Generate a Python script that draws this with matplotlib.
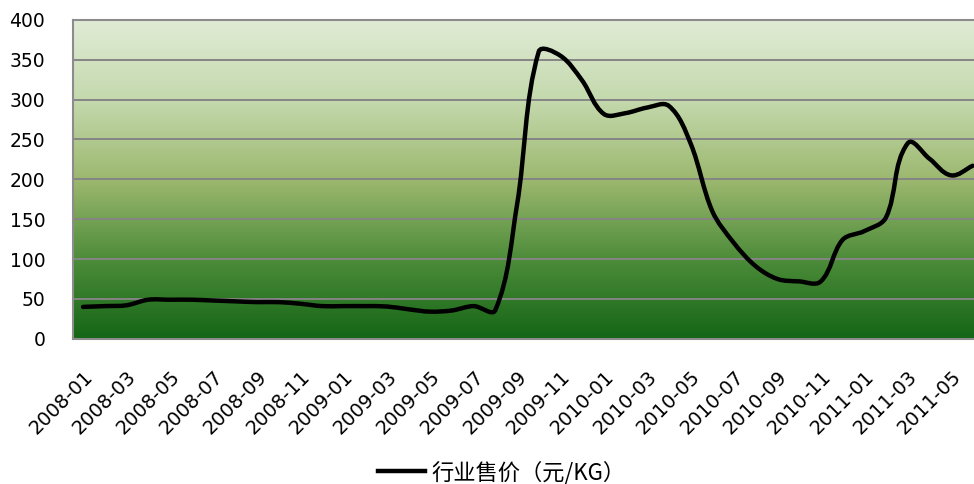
import numpy as np
import matplotlib
matplotlib.use("Agg")
import matplotlib.pyplot as plt
from matplotlib.path import Path
from matplotlib.patches import PathPatch
from matplotlib.lines import Line2D
from matplotlib.colors import LinearSegmentedColormap
from matplotlib.transforms import ScaledTranslation

plt.rcParams['font.family'] = ['DejaVu Sans', 'Noto Sans CJK SC']

# monthly industry selling price (yuan/kg), 2008-01 .. 2011-06
months = ['%d-%02d' % (y, m) for y in (2008, 2009, 2010, 2011) for m in range(1, 13)][:42]
prices = [
    40, 41, 42, 49, 49, 49, 48, 47, 46, 46, 44, 41,
    41, 41, 40.5, 37, 34, 35.5, 41, 36, 168, 360, 355, 324,
    282, 283, 290, 292, 245, 160, 120, 91, 75, 72, 72, 124,
    135, 152, 245, 226, 205, 217,
]
series_name = '行业售价（元/KG）'
yticks = [0, 50, 100, 150, 200, 250, 300, 350, 400]


def smooth_path(ax, xs, ys, k=1.0 / 3):
    # smoothed line: bezier handles scaled by on-screen segment length
    pts = ax.transData.transform(np.column_stack([xs, ys]).astype(float))
    n = len(pts)
    tang = np.zeros_like(pts)
    for i in range(n):
        a = pts[max(i - 1, 0)]
        b = pts[min(i + 1, n - 1)]
        d = b - a
        tang[i] = d / np.hypot(*d)
    verts = [pts[0]]
    codes = [Path.MOVETO]
    for i in range(n - 1):
        seg = np.hypot(*(pts[i + 1] - pts[i]))
        verts += [pts[i] + tang[i] * seg * k, pts[i + 1] - tang[i + 1] * seg * k, pts[i + 1]]
        codes += [Path.CURVE4] * 3
    verts = ax.transData.inverted().transform(np.array(verts))
    return Path(verts, codes)


fig = plt.figure(figsize=(9.74, 4.84), dpi=100)
ax = fig.add_axes([0.075, 0.300, 0.925, 0.659])

cmap = LinearSegmentedColormap.from_list(
    'bg', ['#146616', '#4d8c3a', '#9cb86f', '#c4d9ad', '#e0ebd5'])
grad = np.linspace(0, 1, 256).reshape(-1, 1)
ax.imshow(grad, cmap=cmap, aspect='auto', origin='lower',
          extent=[0, 1, 0, 1], transform=ax.transAxes, zorder=0)

ax.set_xlim(-0.46, 41.06)
ax.set_ylim(0, 400)

x = np.arange(len(prices))
ax.add_patch(PathPatch(smooth_path(ax, x, prices), facecolor='none',
                       edgecolor='black', lw=3.2, capstyle='round', zorder=3))

ax.set_yticks(yticks)
ax.yaxis.grid(True, color='#858585', lw=1.4)
for line in ax.get_ygridlines():
    line.set_zorder(1)

ax.set_xticks(x[::2])
ax.set_xticklabels(months[::2], rotation=45, ha='right', va='center',
                   rotation_mode='anchor')
ax.tick_params(axis='x', length=0, pad=25, labelsize=14)
ax.tick_params(axis='y', length=0, pad=20, labelsize=13.5)
shift = ScaledTranslation(5 / 72, 0, fig.dpi_scale_trans)
for lab in ax.get_xticklabels():
    lab.set_transform(lab.get_transform() + shift)

for s in ('left', 'top', 'bottom'):
    ax.spines[s].set_color('#8c8c8c')
    ax.spines[s].set_linewidth(1.5)
ax.spines['right'].set_visible(False)

handle = Line2D([], [], color='black', lw=3.2)
fig.legend([handle], [series_name], loc='center', bbox_to_anchor=(0.515, 0.024),
           frameon=False, handlelength=2.1, handletextpad=0.3,
           prop={'family': ['Noto Sans CJK SC', 'DejaVu Sans'], 'size': 16})

fig.savefig('out.png', dpi=100)
